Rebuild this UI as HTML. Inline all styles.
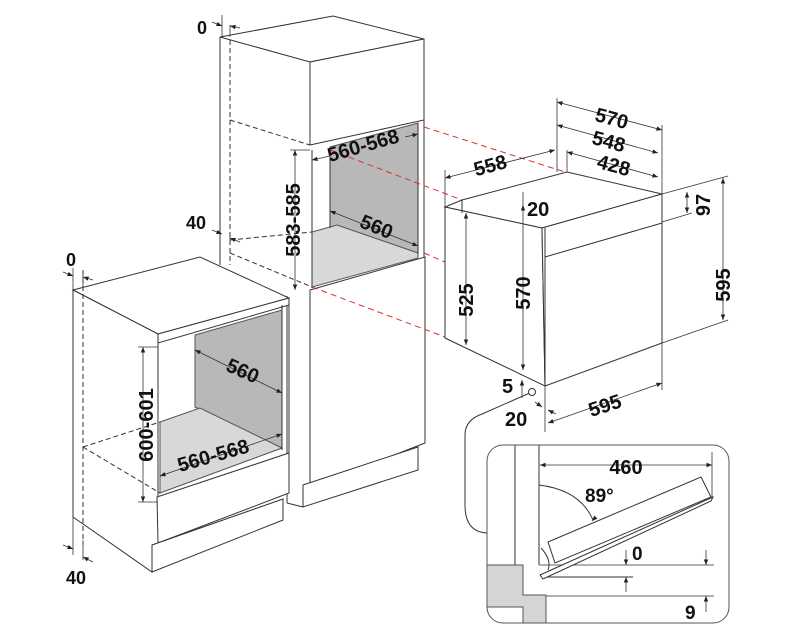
<!DOCTYPE html>
<html><head><style>
html,body{margin:0;padding:0;background:#fff}
svg{display:block}
text{font-family:"Liberation Sans",sans-serif;font-weight:bold;font-size:18px;fill:#111}
</style></head><body>
<svg width="800" height="640" viewBox="0 0 800 640" xmlns="http://www.w3.org/2000/svg">
<defs>
<marker id="a" viewBox="0 0 10 10" refX="10" refY="5" markerWidth="7" markerHeight="7" orient="auto-start-reverse"><path d="M0,1 L10,5 L0,9 z" fill="#222"/></marker>
</defs>
<g stroke="#333" stroke-width="1" fill="none">

<!-- TALL CABINET -->
<polygon points="220,37 333,16 424,39 310,62" fill="#fff"/>
<polygon points="310,62 424,39 424,120 310,145" fill="#fff"/>
<line x1="220" y1="37" x2="220" y2="265"/>
<polygon points="330,147 418,123 418,253 330,227" fill="#b8b8b8" stroke="#555"/>
<polygon points="312,232 337,225 418,253 418,258 312,287" fill="#d8d8d8" stroke="#555"/>
<line x1="312" y1="150" x2="312" y2="288"/>
<line x1="330" y1="147" x2="330" y2="228"/>
<line x1="418" y1="123" x2="418" y2="255"/>
<line x1="424" y1="120" x2="424" y2="258"/>
<polygon points="310,290 425,257 425,443 310,488" fill="#fff"/>
<polygon points="303,485 418,447 418,470 303,507" fill="#fff"/>
<line x1="287" y1="296" x2="287" y2="503"/>
<line x1="287" y1="503" x2="303" y2="507"/>
<g stroke-dasharray="5,3">
<line x1="230" y1="40" x2="230" y2="265"/>
<line x1="230" y1="120" x2="310" y2="145"/>
<line x1="230" y1="240" x2="312" y2="232"/>
<line x1="230" y1="253" x2="312" y2="287"/>
</g>
<g stroke="#e03030" stroke-dasharray="6,4">
<line x1="424" y1="127" x2="565" y2="172"/>
<line x1="330" y1="150" x2="462" y2="200"/>
<line x1="424" y1="253" x2="445" y2="262"/>
<line x1="312" y1="287" x2="445" y2="337"/>
</g>

<!-- LOWER CABINET -->
<polygon points="73,290 200,257 289,298 158,334" fill="#fff"/>
<polygon points="158,334 289,298 289,305 158,343" fill="#fff"/>
<polygon points="73,290 158,334 158,543 152,545 152,572 73,517" fill="#fff"/>
<polygon points="195,335 282,310 282,448 195,407" fill="#b8b8b8" stroke="#555"/>
<polygon points="160,422 200,408 282,448 160,493" fill="#d8d8d8" stroke="#555"/>
<line x1="158" y1="343" x2="158" y2="497"/>
<line x1="282" y1="305" x2="282" y2="450"/>
<line x1="289" y1="305" x2="289" y2="453"/>
<polygon points="157,497 289,453 289,493 158,543" fill="#fff"/>
<polygon points="152,545 283,499 283,520 152,572" fill="#fff"/>
<g stroke-dasharray="5,3">
<line x1="83" y1="270" x2="83" y2="545"/>
<line x1="83" y1="447" x2="160" y2="422"/>
<line x1="83" y1="447" x2="160" y2="493"/>
</g>

<!-- OVEN -->
<polygon points="445,207 462,200 567,172 662,194 542,228" fill="#fff"/>
<polygon points="445,207 542,228 545,386 445,338" fill="#fff"/>
<polygon points="542,228 662,194 662,343 545,386" fill="#fff"/>
<line x1="462" y1="200" x2="462" y2="213"/>
<line x1="545" y1="257" x2="662" y2="223"/>
<line x1="545" y1="228" x2="545" y2="386"/>

<!-- DETAIL -->
<path d="M532,392 L482,414 Q465,420 465,435 L465,505 Q465,532 487,533"/>
<circle cx="532" cy="392" r="3.5" fill="#fff"/>
<rect x="487" y="445" width="242" height="178" rx="16" fill="none" stroke="#555"/>
<polygon points="487,565 523,565 523,595 546,595 546,623 523,623 523,607 487,607" fill="#d5d5d5" stroke="#555"/>
<line x1="515" y1="445" x2="515" y2="565"/>
<line x1="539" y1="445" x2="539" y2="565"/>
<line x1="539" y1="565" x2="714" y2="565" stroke="#666"/>
<line x1="546" y1="596" x2="714" y2="596" stroke="#666"/>
<line x1="545" y1="577" x2="633" y2="577"/>
<polygon points="548,542 701,477 711,497 555,563" fill="#fff"/>
<polygon points="540,575 713,497 711,501 543,579" fill="#fff"/>
<path d="M541,548 Q552,560 548,570"/>
<path d="M539,485 Q580,490 593,520"/>
</g>

<!-- DIMENSION LINES -->
<g stroke="#333" stroke-width="0.8" fill="none">
<line x1="222" y1="15" x2="222" y2="37"/><line x1="230" y1="25" x2="230" y2="37"/>
<line x1="212" y1="22" x2="222" y2="26" marker-end="url(#a)"/><line x1="240" y1="28" x2="230" y2="26" marker-end="url(#a)"/>
<line x1="212" y1="230" x2="222" y2="234" marker-end="url(#a)"/><line x1="240" y1="242" x2="230" y2="238" marker-end="url(#a)"/>
<line x1="230" y1="232" x2="230" y2="245"/>
<line x1="295" y1="150" x2="295" y2="290" marker-start="url(#a)" marker-end="url(#a)"/>
<line x1="290" y1="150" x2="310" y2="150"/>
<line x1="312" y1="160" x2="330" y2="156" marker-start="url(#a)"/>
<line x1="405" y1="137" x2="418" y2="134" marker-end="url(#a)"/>
<line x1="330" y1="211" x2="418" y2="246" marker-start="url(#a)" marker-end="url(#a)"/>
<line x1="73" y1="268" x2="73" y2="290"/><line x1="83" y1="272" x2="83" y2="290"/>
<line x1="63" y1="272" x2="73" y2="276" marker-end="url(#a)"/><line x1="93" y1="280" x2="83" y2="277" marker-end="url(#a)"/>
<line x1="73" y1="517" x2="73" y2="555"/><line x1="83" y1="540" x2="83" y2="560"/>
<line x1="63" y1="545" x2="73" y2="549" marker-end="url(#a)"/><line x1="93" y1="562" x2="83" y2="557" marker-end="url(#a)"/>
<line x1="143" y1="347" x2="143" y2="502" marker-start="url(#a)" marker-end="url(#a)"/>
<line x1="138" y1="347" x2="158" y2="347"/><line x1="138" y1="502" x2="158" y2="502"/>
<line x1="195" y1="350" x2="282" y2="393" marker-start="url(#a)" marker-end="url(#a)"/>
<line x1="160" y1="476" x2="282" y2="434" marker-start="url(#a)" marker-end="url(#a)"/>
<line x1="557" y1="98" x2="557" y2="172"/>
<line x1="662" y1="125" x2="662" y2="194"/>
<line x1="567" y1="150" x2="567" y2="172"/>
<line x1="445" y1="170" x2="445" y2="207"/>
<line x1="557" y1="102" x2="662" y2="130" marker-start="url(#a)" marker-end="url(#a)"/>
<line x1="557" y1="125" x2="658" y2="153" marker-start="url(#a)" marker-end="url(#a)"/>
<line x1="567" y1="152" x2="658" y2="177" marker-start="url(#a)" marker-end="url(#a)"/>
<line x1="445" y1="178" x2="555" y2="150" marker-start="url(#a)" marker-end="url(#a)"/>
<line x1="662" y1="194" x2="728" y2="176"/>
<line x1="662" y1="222" x2="692" y2="213"/>
<line x1="662" y1="343" x2="728" y2="320"/>
<line x1="687" y1="192" x2="687" y2="213" marker-start="url(#a)" marker-end="url(#a)"/>
<line x1="723" y1="178" x2="723" y2="320" marker-start="url(#a)" marker-end="url(#a)"/>
<line x1="466" y1="213" x2="466" y2="345" marker-start="url(#a)" marker-end="url(#a)"/>
<line x1="523" y1="205" x2="523" y2="370" marker-start="url(#a)" marker-end="url(#a)"/>
<line x1="523" y1="192" x2="523" y2="205"/>
<line x1="522" y1="380" x2="522" y2="398" marker-start="url(#a)"/>
<line x1="545" y1="386" x2="545" y2="432"/>
<line x1="662" y1="343" x2="662" y2="390"/>
<line x1="548" y1="423" x2="662" y2="383" marker-start="url(#a)" marker-end="url(#a)"/>
<line x1="535" y1="402" x2="542" y2="407" marker-end="url(#a)"/>
<line x1="556" y1="414" x2="548" y2="410" marker-end="url(#a)"/>
<line x1="540" y1="465" x2="712" y2="465" marker-start="url(#a)" marker-end="url(#a)"/>
<line x1="712" y1="452" x2="712" y2="497"/>
<line x1="593" y1="520" x2="592" y2="521" marker-end="url(#a)"/>
<line x1="626" y1="550" x2="626" y2="565" marker-end="url(#a)"/>
<line x1="626" y1="592" x2="626" y2="577" marker-end="url(#a)"/>
<line x1="706" y1="550" x2="706" y2="565" marker-end="url(#a)"/>
<line x1="706" y1="612" x2="706" y2="596" marker-end="url(#a)"/>
</g>

<!-- TEXT -->
<g>
<text x="197" y="34">0</text>
<text x="186" y="229">40</text>
<text x="66" y="266">0</text>
<text x="66" y="584">40</text>
<text transform="translate(365,152) rotate(-16)" text-anchor="middle" style="font-size:20px">560-568</text>
<text transform="translate(374,233) rotate(22)" text-anchor="middle" style="font-size:20px">560</text>
<text transform="translate(300,220) rotate(-90)" text-anchor="middle" style="font-size:20px">583-585</text>
<text transform="translate(240,377) rotate(24)" text-anchor="middle" style="font-size:20px">560</text>
<text transform="translate(215,462) rotate(-16)" text-anchor="middle" style="font-size:20px">560-568</text>
<text transform="translate(153,425) rotate(-90)" text-anchor="middle" style="font-size:20px">600-601</text>
<text transform="translate(610,125) rotate(15)" text-anchor="middle" style="font-size:20px">570</text>
<text transform="translate(607,148) rotate(15)" text-anchor="middle" style="font-size:20px">548</text>
<text transform="translate(612,172) rotate(15)" text-anchor="middle" style="font-size:20px">428</text>
<text transform="translate(492,172) rotate(-15)" text-anchor="middle" style="font-size:20px">558</text>
<text transform="translate(710,205) rotate(-90)" text-anchor="middle" style="font-size:20px">97</text>
<text transform="translate(730,285) rotate(-90)" text-anchor="middle" style="font-size:20px">595</text>
<text transform="translate(473,300) rotate(-90)" text-anchor="middle" style="font-size:20px">525</text>
<text transform="translate(530,293) rotate(-90)" text-anchor="middle" style="font-size:20px">570</text>
<text x="527" y="216" style="font-size:20px">20</text>
<text x="502" y="393" style="font-size:20px">5</text>
<text x="505" y="426" style="font-size:20px">20</text>
<text transform="translate(607,412) rotate(-18)" text-anchor="middle" style="font-size:20px">595</text>
<text x="626" y="474" text-anchor="middle" style="font-size:20px">460</text>
<text x="585" y="502" style="font-size:19px">89°</text>
<text x="632" y="560" style="font-size:19px">0</text>
<text x="685" y="619" style="font-size:19px">9</text>
</g>
</svg>
</body></html>
